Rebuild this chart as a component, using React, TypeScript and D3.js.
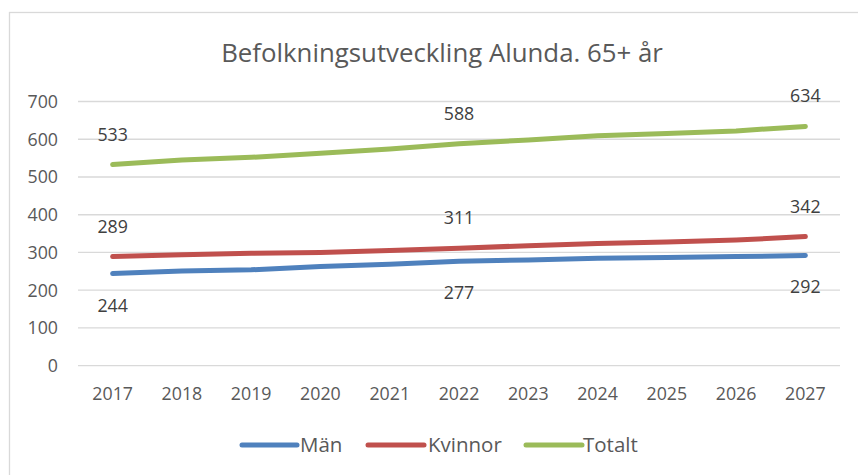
import React from "react";
import * as d3 from "d3";

const years = ["2017","2018","2019","2020","2021","2022","2023","2024","2025","2026","2027"];
const man = [244, 251, 254, 263, 269, 277, 280, 285, 287, 289, 292];
const kvinnor = [289, 294, 298, 300, 305, 311, 318, 324, 328, 333, 342];
const totalt = [533, 545, 552, 563, 574, 588, 598, 609, 615, 622, 634];
const yTicks = [0, 100, 200, 300, 400, 500, 600, 700];
const labelIdx = [0, 5, 10];

const series = [
  { name: "Män", values: man, color: "#4F81BD", below: true },
  { name: "Kvinnor", values: kvinnor, color: "#C0504D", below: false },
  { name: "Totalt", values: totalt, color: "#9BBB59", below: false },
];

const W = 858, H = 475;
const FONT = "'Open Sans', 'Noto Sans', sans-serif";
const TXT = "#595959";

export default function App() {
  const x = d3.scaleBand<string>().domain(years).range([78, 840]);
  const y = d3.scaleLinear().domain([0, 700]).range([365.7, 101.5]);
  const cx = (i: number) => (x(years[i]) as number) + x.bandwidth() / 2;
  const line = d3.line<number>().x((_, i) => cx(i)).y((d) => y(d));
  const legend = [
    { x1: 242, x2: 297, tx: 300 },
    { x1: 368, x2: 424, tx: 428 },
    { x1: 526, x2: 582, tx: 583 },
  ];
  return (
    <svg width={W} height={H} style={{ position: "absolute", left: 0, top: 0, fontFamily: FONT }}>
      <rect x={0} y={0} width={W} height={H} fill="#fff" />
      <rect x={9.5} y={12.5} width={W} height={H} fill="none" stroke="#D9D9D9" strokeWidth={1.3} />
      <text x={442} y={61.5} textAnchor="middle" fontSize={25.8} fill={TXT}>
        Befolkningsutveckling Alunda. 65+ år
      </text>
      {yTicks.map((t) => (
        <g key={t}>
          <line x1={78} x2={840} y1={y(t)} y2={y(t)} stroke="#D9D9D9" strokeWidth={1.3} />
          <text x={58} y={y(t)} dy="0.36em" textAnchor="end" fontSize={17.8} fill={TXT}>{t}</text>
        </g>
      ))}
      {years.map((yr, i) => (
        <text key={yr} x={cx(i)} y={399.5} textAnchor="middle" fontSize={17.8} fill={TXT}>{yr}</text>
      ))}
      {series.map((s) => (
        <path key={s.name} d={line(s.values) as string} fill="none" stroke={s.color}
          strokeWidth={5} strokeLinecap="round" strokeLinejoin="round" />
      ))}
      {series.map((s) =>
        labelIdx.map((i) => (
          <text key={s.name + i} x={cx(i)} y={y(s.values[i]) + (s.below ? 38 : -24)}
            textAnchor="middle" fontSize={17.8} fill="#404040">{s.values[i]}</text>
        ))
      )}
      {series.map((s, k) => (
        <g key={"lg" + s.name}>
          <line x1={legend[k].x1} x2={legend[k].x2} y1={445} y2={445} stroke={s.color}
            strokeWidth={5} strokeLinecap="round" />
          <text x={legend[k].tx} y={452} fontSize={20.5} fill={TXT}>{s.name}</text>
        </g>
      ))}
    </svg>
  );
}
